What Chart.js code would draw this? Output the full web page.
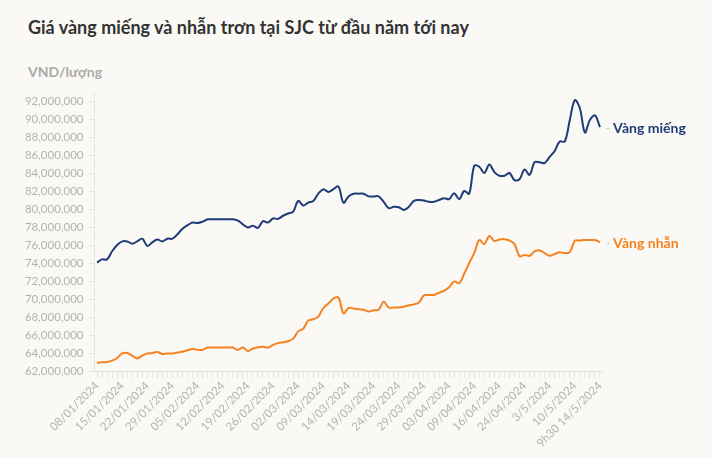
<!DOCTYPE html>
<html>
<head>
<meta charset="utf-8">
<script src="https://cdn.jsdelivr.net/npm/chart.js@4"></script>
<style>
  html, body { margin: 0; padding: 0; background: #faf9f5; }
  .wrap { position: relative; width: 712px; height: 458px; overflow: hidden; }
  .title { position: absolute; left: 28px; top: 16px; font: bold 18px Lato, sans-serif; color: #333; white-space: nowrap; }
  .unit { position: absolute; left: 28px; top: 63px; font: bold 14px Lato, sans-serif; color: #aaa; }
  canvas { position: absolute; left: 0; top: 0; }
</style>
</head>
<body>
<div class="wrap">
  <div class="title">Giá vàng miếng và nhẫn trơn tại SJC từ đầu năm tới nay</div>
  <div class="unit">VND/lượng</div>
  <canvas id="goldChart" width="712" height="458"></canvas>
</div>
<script>
// ===== DATA (million VND / lượng) =====
const DATE_LABELS = ['08/01/2024', '15/01/2024', '22/01/2024', '29/01/2024', '05/02/2024', '12/02/2024',
  '19/02/2024', '26/02/2024', '02/03/2024', '09/03/2024', '14/03/2024', '19/03/2024', '24/03/2024',
  '29/03/2024', '03/04/2024', '09/04/2024', '16/04/2024', '24/04/2024', '3/5/2024', '10/5/2024',
  '9h30 14/5/2024'];
const POINTS_PER_LABEL = 5;

const VANG_MIENG = [
  74.05, 74.4, 74.4, 75.3, 76.0, 76.4, 76.4, 76.15, 76.4, 76.7,
  75.9, 76.3, 76.6, 76.4, 76.7, 76.7, 77.2, 77.8, 78.2, 78.5,
  78.45, 78.6, 78.85, 78.85, 78.85, 78.85, 78.85, 78.85, 78.7, 78.3,
  77.95, 78.15, 77.9, 78.65, 78.5, 78.95, 78.9, 79.25, 79.5, 79.7,
  80.9, 80.4, 80.7, 80.9, 81.7, 82.2, 81.9, 82.2, 82.5, 80.7,
  81.4, 81.7, 81.7, 81.7, 81.4, 81.4, 81.4, 80.8, 80.1, 80.25,
  80.2, 79.9, 80.25, 80.9, 81.0, 80.95, 80.8, 80.8, 81.0, 81.2,
  81.1, 81.75, 81.1, 82.0, 81.7, 84.8, 84.7, 84.0, 84.95, 84.1,
  83.7, 83.7, 84.0, 83.2, 83.3, 84.4, 83.8, 85.2, 85.2, 85.1,
  85.8, 86.45, 87.5, 87.5, 89.9, 92.1, 91.2, 88.5, 89.9, 90.4,
  89.1
];

const VANG_NHAN = [
  62.93, 62.97, 63.0, 63.15, 63.45, 63.95, 64.0, 63.7, 63.4, 63.7,
  63.95, 64.0, 64.1, 63.9, 63.95, 63.95, 64.05, 64.15, 64.3, 64.45,
  64.35, 64.35, 64.6, 64.6, 64.6, 64.6, 64.6, 64.6, 64.35, 64.6,
  64.2, 64.5, 64.65, 64.7, 64.6, 64.9, 65.1, 65.2, 65.3, 65.6,
  66.4, 66.7, 67.6, 67.75, 68.05, 69.0, 69.5, 70.05, 70.15, 68.4,
  69.0, 68.95, 68.85, 68.8, 68.6, 68.75, 68.8, 69.7, 69.05, 69.05,
  69.05, 69.15, 69.3, 69.4, 69.6, 70.4, 70.45, 70.45, 70.7, 70.9,
  71.3, 71.95, 71.75, 72.8, 74.0, 75.1, 76.55, 76.1, 77.0, 76.45,
  76.6, 76.65, 76.5, 76.1, 74.75, 74.9, 74.8, 75.3, 75.4, 75.1,
  74.8, 75.0, 75.2, 75.1, 75.2, 76.45, 76.5, 76.55, 76.55, 76.55,
  76.3
];

const Y_MIN = 62000000;
const Y_MAX = 93000000;
const Y_TICKS = [62000000, 64000000, 66000000, 68000000, 70000000, 72000000, 74000000, 76000000,
  78000000, 80000000, 82000000, 84000000, 86000000, 88000000, 90000000, 92000000];

const COLORS = {
  mieng: '#1f3c78',
  nhan: '#f5821f',
  tick: '#b3b3b3',
  axis: '#e4e4e2',
  dash: '#c4c4c4',
};

const FONT = 'Lato, sans-serif';

// one category per data point, date shown every POINTS_PER_LABEL points
const categories = VANG_MIENG.map((_, i) => i % POINTS_PER_LABEL === 0 ? DATE_LABELS[i / POINTS_PER_LABEL] : '');

// end-of-line series labels
const endLabels = {
  id: 'endLabels',
  afterDatasetsDraw(chart) {
    const ctx = chart.ctx;
    ctx.save();
    chart.data.datasets.forEach((ds, i) => {
      const meta = chart.getDatasetMeta(i);
      const pt = meta.data[meta.data.length - 1];
      ctx.textBaseline = 'middle';
      ctx.textAlign = 'left';
      ctx.font = `12px ${FONT}`;
      ctx.fillStyle = COLORS.dash;
      ctx.fillText('-', pt.x + 6, pt.y + 1);
      ctx.font = `bold 14px ${FONT}`;
      ctx.fillStyle = ds.borderColor;
      ctx.fillText(ds.label, pt.x + 13, pt.y + 1);
    });
    ctx.restore();
  }
};

new Chart(document.getElementById('goldChart'), {
  type: 'line',
  data: {
    labels: categories,
    datasets: [
      {
        label: 'Vàng miếng',
        data: VANG_MIENG.map(v => v * 1e6),
        borderColor: COLORS.mieng,
        borderWidth: 2,
        pointRadius: 0,
        tension: 0.35,
      },
      {
        label: 'Vàng nhẫn',
        data: VANG_NHAN.map(v => v * 1e6),
        borderColor: COLORS.nhan,
        borderWidth: 2,
        pointRadius: 0,
        tension: 0.35,
      }
    ]
  },
  options: {
    responsive: false,
    animation: false,
    layout: { padding: { top: 92, right: 109.5, bottom: 0, left: 0 } },
    plugins: {
      legend: { display: false },
      tooltip: { enabled: false },
    },
    scales: {
      x: {
        offset: true,
        grid: { drawOnChartArea: false, drawTicks: true, tickLength: 7, color: COLORS.axis, offset: false },
        border: { display: true, color: COLORS.axis },
        ticks: {
          autoSkip: false,
          maxRotation: 45,
          minRotation: 45,
          padding: 1,
          color: COLORS.tick,
          font: { family: FONT, size: 11.5 },
        },
        afterFit: scale => { scale.height = 87; },
      },
      y: {
        min: Y_MIN,
        max: Y_MAX,
        grid: { drawOnChartArea: false, drawTicks: true, tickLength: 6, color: COLORS.axis },
        border: { display: true, color: COLORS.axis },
        ticks: {
          padding: 5,
          color: COLORS.tick,
          font: { family: FONT, size: 11.5 },
          callback: v => v.toLocaleString('en-US'),
        },
        afterBuildTicks: scale => { scale.ticks = Y_TICKS.map(v => ({ value: v })); },
        afterFit: scale => { scale.width = 94.5; },
      }
    }
  },
  plugins: [endLabels]
});
</script>
</body>
</html>
